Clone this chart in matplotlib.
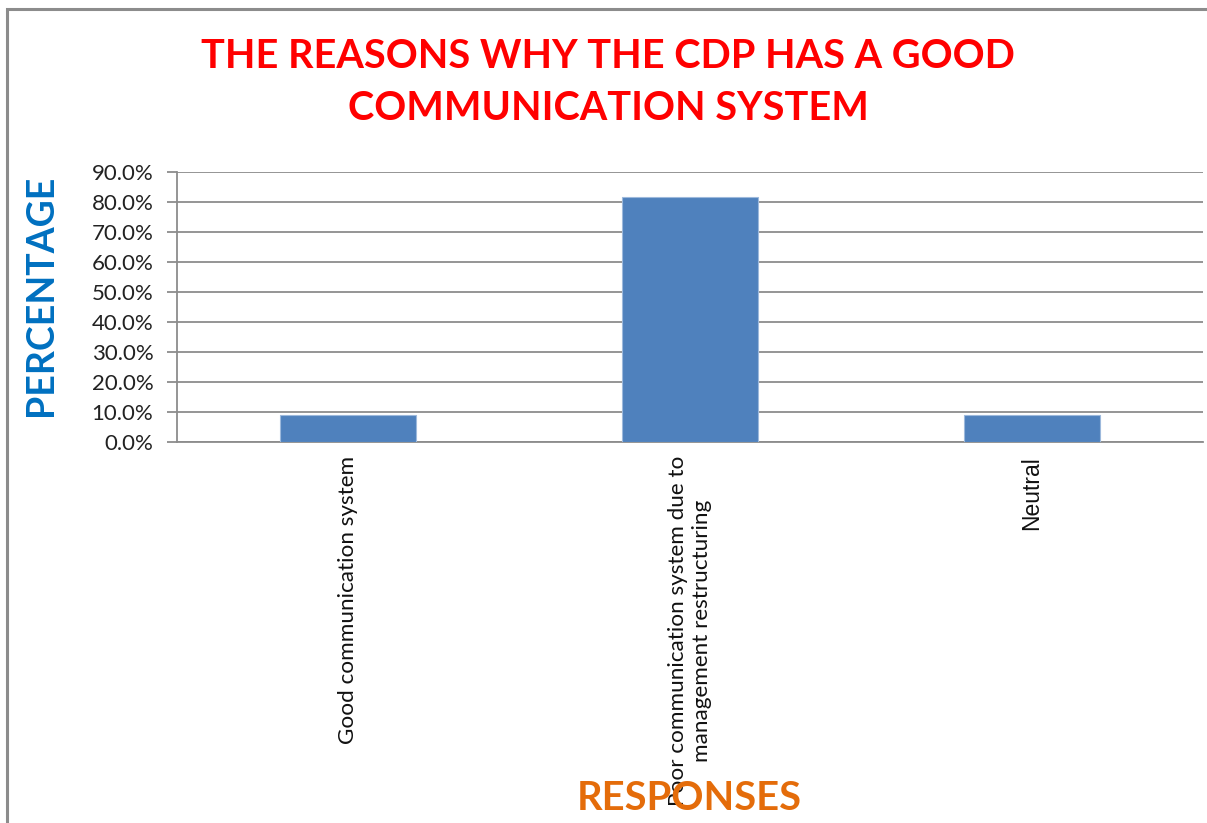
import matplotlib.pyplot as plt
from matplotlib.patches import Rectangle
from matplotlib.ticker import PercentFormatter

# survey responses, share of respondents
responses = [
    "Good communication system",
    "Poor communication system due to\nmanagement restructuring",
    "Neutral",
]
shares = [0.091, 0.818, 0.091]
y_ticks = [0.0, 0.1, 0.2, 0.3, 0.4, 0.5, 0.6, 0.7, 0.8, 0.9]

bar_color = "#4F81BD"
grid_color = "#8C8C8C"

fig = plt.figure(figsize=(12.07, 8.23), dpi=100)
fig.patch.set_facecolor("white")

# chart frame
fig.add_artist(Rectangle((7 / 1207, -0.05), 1.2, 1 - 9 / 823 + 0.05,
                         transform=fig.transFigure, fill=False,
                         edgecolor="#8C8C8C", linewidth=2.2))

ax = fig.add_axes([177 / 1207, 1 - 442 / 823, 1026 / 1207, 270 / 823])

x = range(len(responses))
ax.bar(x, shares, width=0.4, color=bar_color, edgecolor="#9DB9DC",
       linewidth=0.8, zorder=3)

ax.set_xlim(-0.5, 2.5)
ax.set_ylim(0, 0.9)
ax.set_yticks(y_ticks)
ax.yaxis.set_major_formatter(PercentFormatter(1.0, decimals=1))
ax.grid(axis="y", color=grid_color, linewidth=1.3, zorder=0)

for side in ["top", "right"]:
    ax.spines[side].set_visible(False)
ax.spines["left"].set_color(grid_color)
ax.spines["left"].set_linewidth(1.3)
ax.spines["bottom"].set_color(grid_color)
ax.spines["bottom"].set_linewidth(1.3)

ax.tick_params(axis="y", length=7, width=1.3, color=grid_color, pad=10,
               labelsize=16, labelcolor="#222222")
ax.tick_params(axis="x", length=0, pad=10)
for lab in ax.get_yticklabels():
    lab.set_fontfamily("Lato")

ax.set_xticks(list(x))
ax.set_xticklabels(responses, rotation=90, ha="center", va="top",
                   multialignment="center", fontsize=16.2, fontfamily="Lato",
                   color="#111111", linespacing=1.3)
neutral = ax.get_xticklabels()[2]
neutral.set_fontfamily("Liberation Sans")
neutral.set_fontsize(16.5)

fig.text(608 / 1207, 1 - 83 / 823,
         "THE REASONS WHY THE CDP HAS A GOOD\nCOMMUNICATION SYSTEM",
         ha="center", va="center", color="#FF0000", fontsize=28.5,
         fontweight="bold", fontfamily="Lato", linespacing=1.5)

fig.text(41 / 1207, 1 - 295 / 823, "PERCENTAGE", rotation=90,
         ha="center", va="center", color="#0070C0", fontsize=27,
         fontweight="bold", fontfamily="Lato")

fig.text(689 / 1207, 1 - 798 / 823, "RESPONSES", ha="center", va="center",
         color="#E46C0A", fontsize=28.7, fontweight="bold", fontfamily="Lato")

fig.savefig("out.png", dpi=100, facecolor="white")
